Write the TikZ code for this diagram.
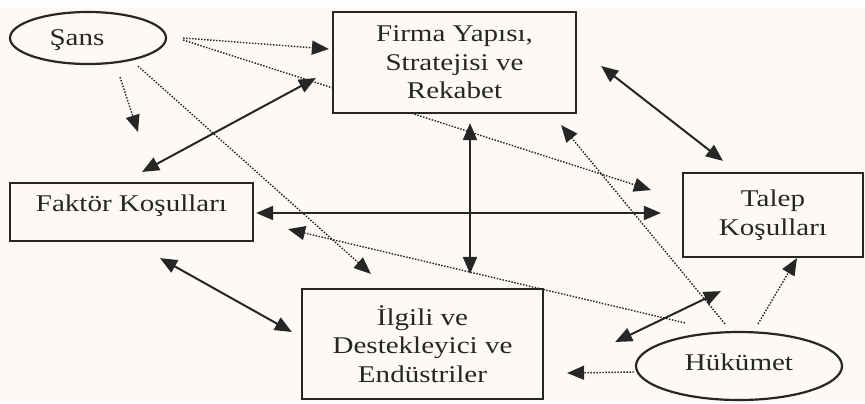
\documentclass[tikz,border=0pt]{standalone}
\usepackage{fontspec}
\setmainfont{Liberation Serif}[FakeStretch=1.21]
\usepackage{tikz}
\usetikzlibrary{arrows.meta,shapes.geometric,backgrounds}
\definecolor{paper}{HTML}{FDFAF6}
\definecolor{ink}{HTML}{262626}

\begin{document}
\begin{tikzpicture}[x=0.5pt, y=-0.5pt, >={Triangle[length=8.5pt,width=7pt]}, font=\fontsize{12}{14.25}\selectfont, text=ink]
  \tikzstyle{box}=[draw=ink, line width=1.1pt, fill=paper, align=center, inner sep=0pt]
  \tikzstyle{oval}=[box, ellipse]
  \tikzstyle{link}=[<->, draw=ink, line width=1pt]
  \tikzstyle{cue}=[->, draw=ink, line width=0.7pt, dash pattern=on 0.75pt off 0.75pt]
  \useasboundingbox (0,0) rectangle (865,403);
  % the diamond
  \node[box, minimum width=121.5pt, minimum height=50.5pt] (firma) at (454.5,62.5) {Firma Yapısı,\\Stratejisi ve\\Rekabet};
  \node[box, minimum width=121.5pt, minimum height=29pt, text depth=8.5pt] (faktor) at (131.5,212) {Faktör Koşulları};
  \node[box, minimum width=90pt, minimum height=42pt] (talep) at (773,215) {Talep\\Koşulları};
  \node[box, minimum width=120.5pt, minimum height=55pt] (ilgili) at (422.5,344) {İlgili ve\\Destekleyici ve\\Endüstriler};
  % outside influences
  \node[oval, minimum width=78pt, minimum height=26pt, text depth=0pt] (sans) at (88,38) {Şans\hspace{11pt}};
  \node[oval, minimum width=103pt, minimum height=34pt, text depth=4pt] (hukumet) at (739,366) {Hükümet};
  \coordinate (sansdown) at (138,132);
  \begin{pgfonlayer}{background}
    \fill[paper] (0,7) rectangle (865,403);
    % two-way links
    \draw[link] ([shift={(10.5,-10)}]faktor.north) -- ([shift={(-16,15.5)}]firma.west);
    \draw[link] ([shift={(15.5,9)}]firma.south) -- ([shift={(47.5,-14)}]ilgili.north);
    \draw[link] ([shift={(24,3.5)}]firma.east) -- ([shift={(-50,-11)}]talep.north);
    \draw[link] ([shift={(2,1)}]faktor.east) -- ([shift={(-21,-2)}]talep.west);
    \draw[link] ([shift={(28.5,16)}]faktor.south) -- ([shift={(-9,-12)}]ilgili.west);
    \draw[link] ([shift={(71,-2)}]ilgili.east) -- ([shift={(39,33)}]talep.south west);
    % chance
    \draw[cue] ([shift={(16,0)}]sans.east) -- ([shift={(-3,-13.5)}]firma.west);
    \draw[cue] ([shift={(16,2)}]sans.east) -- ([shift={(-31,-25)}]talep.west);
    \draw[cue] ([shift={(32,12)}]sans.south) -- (sansdown);
    \draw[cue] ([shift={(50,1)}]sans.south) -- ([shift={(70,-14)}]ilgili.north west);
    % government
    \draw[cue] ([shift={(-14,-7)}]hukumet.north) -- ([shift={(-16,11)}]firma.south east);
    \draw[cue] ([shift={(19,-7)}]hukumet.north) -- ([shift={(24,0)}]talep.south);
    \draw[cue] ([shift={(-54,-8)}]hukumet.north) -- ([shift={(34,-13)}]faktor.south east);
    \draw[cue] ([shift={(-1,6)}]hukumet.west) -- ([shift={(23,29)}]ilgili.east);
  \end{pgfonlayer}
\end{tikzpicture}
\end{document}
